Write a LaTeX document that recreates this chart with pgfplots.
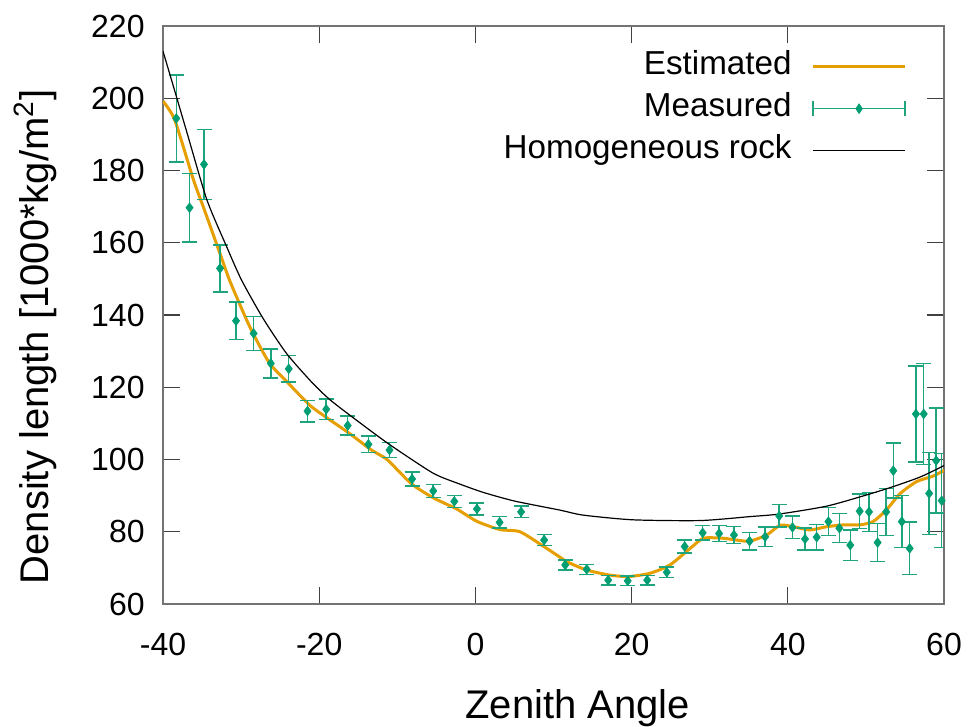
\documentclass[border=0pt]{standalone}
\usepackage{pgfplots}
\pgfplotsset{compat=1.18}
\usepackage{fontspec}
\setmainfont{Liberation Sans}
\definecolor{estc}{RGB}{230,159,0}
\definecolor{measc}{RGB}{0,158,115}
\definecolor{barc}{RGB}{30,165,125}
\begin{document}
\begin{tikzpicture}[font=\fontsize{16}{19}\selectfont]
\begin{axis}[
  scale only axis, width=390.5pt, height=289pt,
  xmin=-40, xmax=60, ymin=60, ymax=220,
  xtick={-40,-20,...,60}, ytick={60,80,...,220},
  tick align=inside, major tick length=8.3pt,
  axis line style={black!55, line width=0.7pt},
  major tick style={black!75, line width=0.6pt},
  /pgf/number format/assume math mode=true,
  xticklabel style={inner sep=0pt, yshift=-14.5pt},
  yticklabel style={inner sep=0pt, xshift=-9pt},
  xlabel={Zenith Angle},
  ylabel={Density length [1000*kg/m\textsuperscript{2}]},
  label style={font=\fontsize{20}{24}\selectfont},
  xlabel style={at={(axis description cs:0.531,-0.18)}, anchor=center},
  ylabel style={at={(axis description cs:-0.163,0.462)}, anchor=center},
  legend plot pos=right,
  legend cell align=right,
  legend style={draw=none, fill=none, at={(0.9526,0.958)}, anchor=north east,
    font=\fontsize{16.6}{19}\selectfont,
    inner sep=0pt, /tikz/column sep=10pt, /tikz/row sep=5pt,
    nodes={inner sep=0pt, text height=12pt, text depth=4pt}},
]
\addplot[estc, line width=1.5pt, smooth, tension=0.4,
  legend image code/.code={\draw[estc, line width=1.5pt] (0pt,0pt) -- (46pt,0pt);}]
  table {
x y
-40 199.2
-38.5 194.0
-36.1 177.4
-34.8 169.7
-32.7 157.0
-31.4 149.2
-28.9 136.8
-26.4 126.8
-23.9 121.0
-21.2 115.0
-19.05 111.6
-16.05 107.1
-13.5 102.9
-12.2 101.2
-11.15 99.7
-8.2 93.3
-5.4 89.4
-2.4 86.3
0.17 82.9
3.15 80.6
5.7 80.0
8.7 76.0
10.8 73.0
11.8 71.6
14.25 69.4
17.2 68.0
19.6 67.6
22.35 68.5
24.9 70.8
27.5 75.4
29.2 78.2
31.7 78.2
33.4 77.7
35.1 77.4
37.3 79.1
39.0 81.8
40.7 81.4
42.8 80.5
45.0 81.4
47.1 81.9
49.2 81.9
50.9 82.8
52.6 86.0
54.4 90.6
56.5 93.9
58.6 95.4
60 97.0
};
\addlegendentry{Estimated}

\addplot[measc, only marks, mark=diamond*, mark size=2.4pt,
  mark options={fill=measc, draw=measc, line width=0.3pt},
  legend image code/.code={
    \draw[barc, line width=0.75pt] (0pt,0pt) -- (46pt,0pt)
       (0pt,-3.75pt) -- (0pt,3.75pt) (46pt,-3.75pt) -- (46pt,3.75pt);
    \fill[measc] (23pt,2.4pt) -- (24.6pt,0pt) -- (23pt,-2.4pt) -- (21.4pt,0pt) -- cycle;},
  error bars/.cd, y dir=both, y explicit,
  error bar style={line width=0.75pt, draw=barc},
  error mark=|,
  error mark options={draw=barc, line width=0.75pt, mark size=3.75pt},
  ] table[x=x, y=y, y error=e] {
x y e
-38.3 194.4 12.1
-36.6 169.7 9.5
-34.75 181.7 9.7
-32.7 152.9 6.5
-30.65 138.4 5.2
-28.4 134.9 4.7
-26.2 126.6 4.0
-23.9 125.1 3.7
-21.5 113.4 3.0
-19.1 113.9 2.8
-16.35 109.4 2.6
-13.7 104.2 2.3
-11.0 102.6 2.1
-8.1 94.6 1.9
-5.4 91.3 1.8
-2.7 88.4 1.7
0.2 86.3 1.7
3.1 82.6 1.6
5.85 85.5 1.6
8.8 77.7 1.5
11.5 70.8 1.4
14.25 69.6 1.4
17.0 66.6 1.3
19.5 66.4 1.3
22.0 66.6 1.3
24.5 68.8 1.5
26.8 75.9 1.8
29.1 79.7 2.0
31.2 79.5 2.2
33.1 79.1 2.3
35.1 77.4 2.4
37.1 78.6 2.7
38.9 84.4 3.1
40.6 81.2 3.1
42.2 78.0 3.1
43.7 78.5 3.5
45.2 82.8 3.9
46.6 81.0 4.0
48.0 76.3 4.2
49.2 85.7 4.8
50.4 85.5 5.4
51.5 77.0 5.3
52.6 85.5 6.5
53.5 96.9 7.6
54.6 82.8 7.2
55.6 75.4 7.3
56.4 112.6 13.3
57.4 112.6 14.0
58.1 90.6 11.3
59.0 99.7 14.5
59.7 88.6 13.0
};
\addlegendentry{Measured}

\addplot[black, line width=0.6pt, smooth, tension=0.4,
  legend image code/.code={\draw[black, line width=0.6pt] (0pt,0pt) -- (46pt,0pt);}]
  table {
x y
-40 213
-38.9 205
-37 191
-34.4 172
-31.85 158.9
-29.95 149.7
-27.2 139.1
-24.2 129.4
-21 121.5
-18.6 116.5
-15 110.5
-10.9 104.0
-5.4 96.2
-2 93.2
1.0 90.9
5 88.5
10.8 86.0
13.8 84.6
20.2 83.3
28.8 83.1
35.2 84.2
38.9 84.9
45.0 87.1
50.1 90.2
53.5 92.5
57 95.2
60 98.3
};
\addlegendentry{Homogeneous rock}
\end{axis}
\pgfresetboundingbox
\useasboundingbox (-81.5pt,-61.5pt) rectangle (405pt,302pt);
\end{tikzpicture}
\end{document}
